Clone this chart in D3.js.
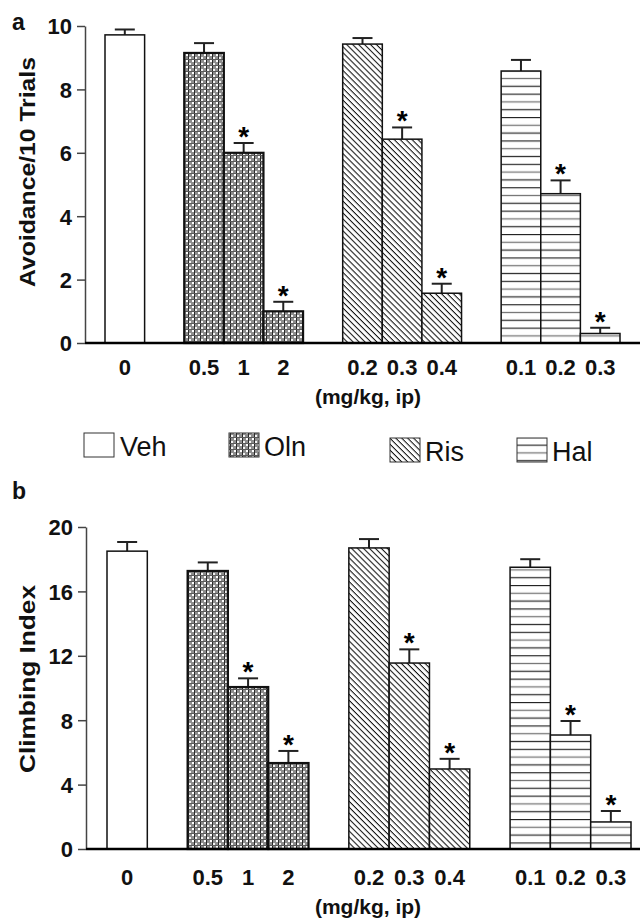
<!DOCTYPE html>
<html>
<head>
<meta charset="utf-8">
<script src="https://cdn.jsdelivr.net/npm/d3@7"></script>
<style>
  body { margin: 0; background: #fff; }
  text { font-family: "Liberation Sans", Arial, sans-serif; }
</style>
</head>
<body>
<div id="chart"></div>
<script>
// data
var drugs = ["Veh", "Oln", "Ris", "Hal"];
var barDrug = ["Veh", "Oln", "Oln", "Oln", "Ris", "Ris", "Ris", "Hal", "Hal", "Hal"];
var doseLabels = ["0", "0.5", "1", "2", "0.2", "0.3", "0.4", "0.1", "0.2", "0.3"];
var slotIndex = [0, 2, 3, 4, 6, 7, 8, 10, 11, 12];
var avoidMean = [9.72, 9.15, 6.0, 1.0, 9.43, 6.43, 1.57, 8.58, 4.71, 0.3];
var avoidSem = [0.17, 0.31, 0.31, 0.3, 0.19, 0.37, 0.3, 0.35, 0.42, 0.18];
var climbMean = [18.5, 17.27, 10.06, 5.34, 18.7, 11.55, 4.97, 17.5, 7.08, 1.68];
var climbSem = [0.57, 0.53, 0.54, 0.75, 0.55, 0.85, 0.63, 0.5, 0.87, 0.68];
var significant = [false, false, true, true, false, true, true, false, true, true];
var avoidTicks = [0, 2, 4, 6, 8, 10];
var climbTicks = [0, 4, 8, 12, 16, 20];

var W = 640, H = 918;
var svg = d3.select("#chart").append("svg")
    .attr("width", W)
    .attr("height", H);

// fill patterns
var defs = svg.append("defs");

var pOln = defs.append("pattern").attr("id", "pat-Oln")
    .attr("patternUnits", "userSpaceOnUse").attr("width", 6).attr("height", 6);
pOln.append("rect").attr("width", 6).attr("height", 6).attr("fill", "#8e8e8e");
pOln.append("rect").attr("x", 0).attr("y", 0).attr("width", 2).attr("height", 2).attr("fill", "#fff");
pOln.append("rect").attr("x", 3).attr("y", 3).attr("width", 2).attr("height", 2).attr("fill", "#f4f4f4");
pOln.append("rect").attr("x", 2).attr("y", 0).attr("width", 1).attr("height", 6).attr("fill", "#2a2a2a");
pOln.append("rect").attr("x", 0).attr("y", 5).attr("width", 6).attr("height", 1).attr("fill", "#5a5a5a");

var pRis = defs.append("pattern").attr("id", "pat-Ris")
    .attr("patternUnits", "userSpaceOnUse").attr("width", 4.2).attr("height", 4.2)
    .attr("patternTransform", "rotate(45)");
pRis.append("rect").attr("width", 4.2).attr("height", 4.2).attr("fill", "#fff");
pRis.append("line").attr("x1", 0).attr("x2", 4.2).attr("y1", 0.5).attr("y2", 0.5)
    .attr("stroke", "#111").attr("stroke-width", 1.1);

var pHal = defs.append("pattern").attr("id", "pat-Hal")
    .attr("patternUnits", "userSpaceOnUse").attr("width", 8).attr("height", 23.4);
pHal.append("rect").attr("width", 8).attr("height", 23.4).attr("fill", "#fff");
[[0.5, "#222"], [8.3, "#777"], [16.1, "#333"]].forEach(function (l) {
    pHal.append("line").attr("x1", 0).attr("x2", 8).attr("y1", l[0]).attr("y2", l[0])
        .attr("stroke", l[1]).attr("stroke-width", 1.3);
});

var fillFor = function (d) { return d === "Veh" ? "#fff" : "url(#pat-" + d + ")"; };

function panel(opts) {
    var g = svg.append("g");
    var y = d3.scaleLinear().domain([0, opts.max]).range([opts.y0, opts.y1]);
    var x = d3.scaleBand().domain(d3.range(13)).range([opts.x0, opts.x1]).padding(0);

    var rows = doseLabels.map(function (lab, i) {
        return { label: lab, drug: barDrug[i], slot: slotIndex[i], mean: opts.mean[i], sem: opts.sem[i], sig: significant[i] };
    });

    // y axis
    var yAxis = d3.axisLeft(y).tickValues(opts.ticks).tickSize(8).tickSizeOuter(0).tickPadding(5);
    var ya = g.append("g").attr("transform", "translate(" + opts.axisX + ",0)").call(yAxis);
    ya.select(".domain").attr("stroke", "#444").attr("stroke-width", 1.5);
    ya.selectAll(".tick line").attr("stroke", "#444").attr("stroke-width", 1.5);
    ya.selectAll(".tick text").attr("font-size", 22).attr("font-weight", "bold")
        .attr("fill", "#111").attr("dy", "0.36em");

    // error bars
    var eb = g.selectAll("g.err").data(rows).enter().append("g").attr("class", "err");
    eb.append("line")
        .attr("x1", function (d) { return x(d.slot) + x.bandwidth() / 2; })
        .attr("x2", function (d) { return x(d.slot) + x.bandwidth() / 2; })
        .attr("y1", function (d) { return y(d.mean); })
        .attr("y2", function (d) { return y(d.mean + d.sem); })
        .attr("stroke", "#222").attr("stroke-width", 2);
    eb.append("line")
        .attr("x1", function (d) { return x(d.slot) + x.bandwidth() / 2 - 10; })
        .attr("x2", function (d) { return x(d.slot) + x.bandwidth() / 2 + 10; })
        .attr("y1", function (d) { return y(d.mean + d.sem); })
        .attr("y2", function (d) { return y(d.mean + d.sem); })
        .attr("stroke", "#222").attr("stroke-width", 2);

    // bars
    g.selectAll("rect.bar").data(rows).enter().append("rect")
        .attr("class", "bar")
        .attr("x", function (d) { return x(d.slot); })
        .attr("width", x.bandwidth())
        .attr("y", function (d) { return y(d.mean); })
        .attr("height", function (d) { return y(0) - y(d.mean); })
        .attr("fill", function (d) { return fillFor(d.drug); })
        .attr("stroke", "#111")
        .attr("stroke-width", function (d) { return d.drug === "Oln" ? 2.2 : 1.5; });

    // significance stars
    g.selectAll("text.star").data(rows.filter(function (d) { return d.sig; })).enter().append("text")
        .attr("class", "star")
        .attr("x", function (d) { return x(d.slot) + x.bandwidth() / 2; })
        .attr("y", function (d) { return y(d.mean + d.sem) + 3; })
        .attr("text-anchor", "middle")
        .attr("font-size", 28)
        .attr("font-weight", "bold")
        .text("*");

    // x axis line
    g.append("line")
        .attr("x1", opts.axisX).attr("x2", W)
        .attr("y1", y(0)).attr("y2", y(0))
        .attr("stroke", "#000").attr("stroke-width", 2.5);

    // dose labels
    g.selectAll("text.dose").data(rows).enter().append("text")
        .attr("class", "dose")
        .attr("x", function (d) { return x(d.slot) + x.bandwidth() / 2; })
        .attr("y", opts.labelY)
        .attr("text-anchor", "middle")
        .attr("font-size", 22)
        .attr("font-weight", "bold")
        .attr("fill", "#111")
        .text(function (d) { return d.label; });

    g.append("text")
        .attr("x", 368).attr("y", opts.unitY)
        .attr("text-anchor", "middle")
        .attr("font-size", 21).attr("font-weight", "bold").attr("fill", "#111")
        .text("(mg/kg, ip)");

    // y title
    g.append("text")
        .attr("transform", "translate(" + opts.titleX + "," + opts.titleY + ") rotate(-90)")
        .attr("text-anchor", "middle")
        .attr("font-size", 22).attr("font-weight", "bold").attr("fill", "#111")
        .attr("textLength", opts.titleLen).attr("lengthAdjust", "spacingAndGlyphs")
        .text(opts.title);

    // panel letter
    g.append("text")
        .attr("x", 12).attr("y", opts.letterY)
        .attr("font-size", 23).attr("font-weight", "bold").attr("fill", "#111")
        .text(opts.letter);
}

panel({
    mean: avoidMean, sem: avoidSem, max: 10, ticks: avoidTicks,
    y0: 343, y1: 26, x0: 105, x1: 620, axisX: 85,
    labelY: 375, unitY: 404, title: "Avoidance/10 Trials", titleX: 35, titleY: 172, titleLen: 230,
    letter: "a", letterY: 30
});

panel({
    mean: climbMean, sem: climbSem, max: 20, ticks: climbTicks,
    y0: 849, y1: 527, x0: 107, x1: 631, axisX: 86,
    labelY: 885, unitY: 914, title: "Climbing Index", titleX: 35, titleY: 679, titleLen: 188,
    letter: "b", letterY: 499
});

// legend
var legendPos = { Veh: [84, 433, 120], Oln: [229, 433, 264], Ris: [390, 438, 425], Hal: [517, 438, 552] };
var leg = svg.append("g");
drugs.forEach(function (d) {
    var p = legendPos[d];
    leg.append("rect")
        .attr("x", p[0]).attr("y", p[1]).attr("width", 30).attr("height", 24)
        .attr("fill", fillFor(d)).attr("stroke", "#333").attr("stroke-width", 1);
    leg.append("text")
        .attr("x", p[2]).attr("y", p[1] + 23)
        .attr("font-size", 27).attr("fill", "#111")
        .text(d);
});
</script>
</body>
</html>
